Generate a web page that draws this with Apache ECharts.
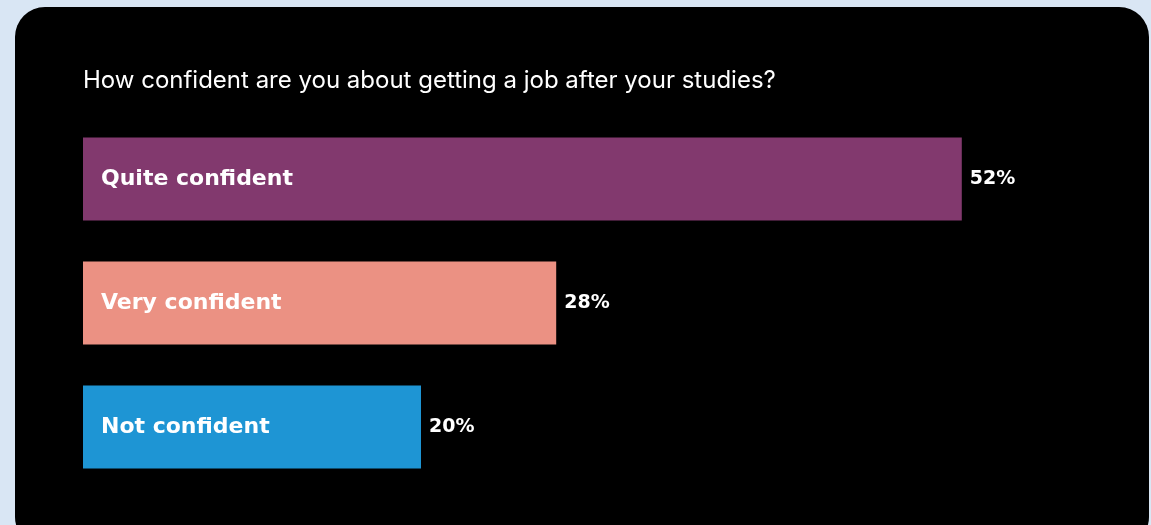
<!DOCTYPE html>
<html>
<head>
<meta charset="utf-8">
<script src="https://cdn.jsdelivr.net/npm/echarts@6/dist/echarts.min.js"></script>
<style>
  html, body { margin: 0; padding: 0; background: #d9e6f4; }
  #chart { width: 1151px; height: 525px; }
</style>
</head>
<body>
<div id="chart"></div>
<script>
// Survey answers and their shares (percent)
const categories = ['Quite confident', 'Very confident', 'Not confident'];
const shares = [52, 28, 20];
const barColors = ['#82396e', '#eb9183', '#1e95d4'];
const titleText = 'How confident are you about getting a job after your studies?';

const chart = echarts.init(document.getElementById('chart'));

const option = {
  backgroundColor: '#d9e6f4',
  animation: false,
  graphic: [
    {
      type: 'rect',
      z: -10,
      shape: { x: 15, y: 7, width: 1134, height: 540, r: 30 },
      style: { fill: '#000000' }
    },
    {
      type: 'text',
      left: 83,
      top: 69,
      style: {
        text: titleText,
        fill: '#ffffff',
        font: '24px Inter, "Noto Sans", sans-serif'
      }
    }
  ],
  grid: { left: 83, top: 117, width: 1014, height: 372 },
  xAxis: {
    type: 'value',
    min: 0,
    max: 60,
    show: false
  },
  yAxis: {
    type: 'category',
    data: categories,
    inverse: true,
    show: false
  },
  series: [
    {
      type: 'bar',
      barWidth: 83,
      data: shares.map((v, i) => ({ value: v, itemStyle: { color: barColors[i] } })),
      label: {
        show: true,
        position: 'insideLeft',
        distance: 18,
        formatter: '{b}',
        color: '#ffffff',
        fontFamily: 'Verdana, "DejaVu Sans", sans-serif',
        fontWeight: 'bold',
        fontSize: 22
      }
    },
    {
      type: 'bar',
      barWidth: 83,
      barGap: '-100%',
      data: shares,
      itemStyle: { color: 'rgba(0,0,0,0)' },
      label: {
        show: true,
        position: 'right',
        distance: 8,
        formatter: '{c}%',
        color: '#ffffff',
        fontFamily: '"DejaVu Sans", sans-serif',
        fontWeight: 'bold',
        fontSize: 19
      }
    }
  ]
};

chart.setOption(option);
</script>
</body>
</html>
